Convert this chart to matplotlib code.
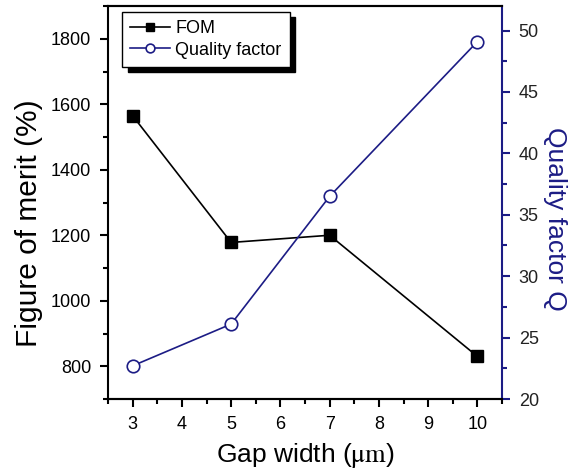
import matplotlib
matplotlib.use("Agg")
import matplotlib.pyplot as plt
from matplotlib.ticker import MultipleLocator

plt.rcParams['font.family'] = ['Liberation Sans', 'DejaVu Sans']
plt.rcParams['mathtext.fontset'] = 'stix'

gap_width = [3, 5, 7, 10]
fom = [1565, 1178, 1200, 830]
quality_q = [22.7, 26.1, 36.5, 49.1]

navy = '#1c1c85'

fig = plt.figure(figsize=(5.72, 4.74), dpi=100)
ax = fig.add_axes([108/572, 1-399/474, (502-108)/572, (399-6)/474])
ax2 = ax.twinx()

l1, = ax.plot(gap_width, fom, color='black', lw=1.2, marker='s', ms=9,
              mfc='black', mec='black', label='FOM')
l2, = ax2.plot(gap_width, quality_q, color=navy, lw=1.2, marker='o', ms=9,
               mfc='white', mec=navy, mew=1.2, label='Quality factor')

ax.set_xlim(2.5, 10.5)
ax.set_ylim(700, 1900)
ax2.set_ylim(20, 52)

ax.xaxis.set_major_locator(MultipleLocator(1))
ax.xaxis.set_minor_locator(MultipleLocator(0.5))
ax.yaxis.set_major_locator(MultipleLocator(200))
ax.yaxis.set_minor_locator(MultipleLocator(100))
ax2.yaxis.set_major_locator(MultipleLocator(5))
ax2.yaxis.set_minor_locator(MultipleLocator(2.5))

for a in (ax, ax2):
    for s in a.spines.values():
        s.set_linewidth(1.5)
ax2.spines['right'].set_color(navy)
ax.spines['right'].set_visible(False)
ax2.spines['left'].set_visible(False)

ax.tick_params(axis='both', which='major', direction='out', length=6, width=1.5,
               labelsize=13, pad=6)
ax.tick_params(axis='both', which='minor', direction='out', length=3.5, width=1.5)
ax2.tick_params(axis='y', which='major', direction='out', length=6, width=1.5,
                labelsize=13, colors=navy, labelcolor='#222222', pad=6)
ax2.tick_params(axis='y', which='minor', direction='out', length=3.5, width=1.5,
                colors=navy)

ax.set_xlabel(r'Gap width ($\mathrm{\mu m}$)', fontsize=19, labelpad=6)
ax.set_ylabel('Figure of merit (%)', fontsize=21.5, labelpad=6)
ax2.set_ylabel('Quality factor Q', fontsize=19, color=navy, rotation=-90,
               labelpad=20)
ax.yaxis.label.set_y(0.448)
ax2.yaxis.label.set_y(0.458)

leg = ax.legend(handles=[l1, l2], loc='upper left', fontsize=13,
                frameon=True, fancybox=False, edgecolor='black',
                shadow={'color': 'black', 'alpha': 1.0, 'ox': 4, 'oy': -4},
                handlelength=2.2, handletextpad=0.3, borderpad=0.45,
                labelspacing=0.25, markerscale=0.7, borderaxespad=0,
                bbox_to_anchor=(0.036, 0.985))
leg.get_frame().set_linewidth(1.0)
leg.set_zorder(10)

fig.savefig('out.png', dpi=100)
